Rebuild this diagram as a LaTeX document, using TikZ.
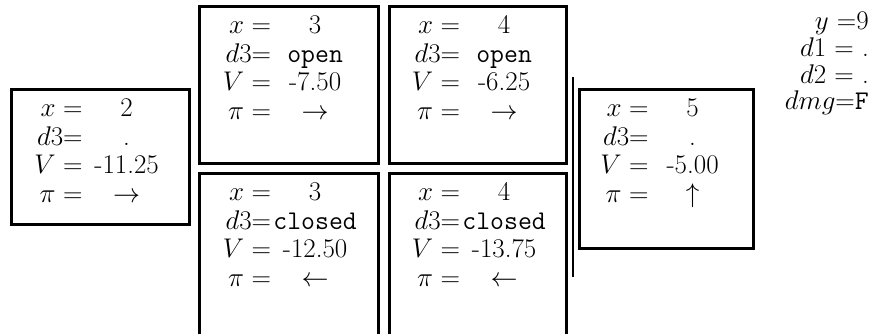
\RequirePackage{fix-cm}
\documentclass[tikz,border=0pt]{standalone}
\usepackage{array}
\usetikzlibrary{calc}
\newcommand\cellfont{\fontsize{27}{28.6}\selectfont}
\newcommand\infofont{\fontsize{27}{26.8}\selectfont}
\newcommand\cellrows[4]{\begin{tabular}[t]{@{}r@{}>{\centering\arraybackslash}p{88pt}@{}}$x=$ & #1\\ $d3{=}$ & #2\\ $V=$ & #3\\ $\pi=$ & #4\end{tabular}}
\tikzset{
  frame/.style={draw, line width=3pt, inner sep=0pt},
  celltext/.style={inner sep=0pt, anchor=base, font=\cellfont},
  sepline/.style={line width=2pt},
}
\begin{document}
\begin{tikzpicture}[x=1pt,y=-1pt]
\useasboundingbox (0,0) rectangle (871,333);
\clip (0,0) rectangle (871,333);
% frames
\node[frame, minimum width=178pt, minimum height=135pt] (L) at (100.5,157) {};
\node[frame, minimum width=179pt, minimum height=157pt] (T3) at (289,85) {};
\node[frame, minimum width=177pt, minimum height=157pt] (T4) at (478,85) {};
\node[frame, minimum width=179pt, minimum height=180pt] (B3) at (289,263.5) {};
\node[frame, minimum width=177pt, minimum height=180pt] (B4) at (478,263.5) {};
\node[frame, minimum width=174pt, minimum height=159pt] (R) at (666.5,169) {};
% contents
\node[celltext] (Lt) at ($(L.north)+(2,28.5)$) {\cellrows{2}{.}{-11.25}{$\rightarrow$}};
\node[celltext] (T3t) at ($(T3.north)+(2,28.5)$) {\cellrows{3}{\texttt{open}}{-7.50}{$\rightarrow$}};
\node[celltext] (T4t) at ($(T4.north)+(2,28.5)$) {\cellrows{4}{\texttt{open}}{-6.25}{$\rightarrow$}};
\node[celltext] (B3t) at ($(B3.north)+(2,28.5)$) {\cellrows{3}{\texttt{closed}}{-12.50}{$\leftarrow$}};
\node[celltext] (B4t) at ($(B4.north)+(2,28.5)$) {\cellrows{4}{\texttt{closed}}{-13.75}{$\leftarrow$}};
\node[celltext] (Rt) at ($(R.north)+(2,28.5)$) {\cellrows{5}{.}{-5.00}{$\uparrow$}};
% separator
\coordinate (s1) at (573,77);
\coordinate (s2) at (573,277);
\draw[sepline] (s1) -- (s2);
% info
\node[inner sep=0pt, anchor=base east, font=\infofont] (info) at (869,29.5)
  {\begin{tabular}[t]{@{}r@{}}$y$ =9\\ $d1$ = .\\ $d2$ = .\\ $dmg{=}$\texttt{F}\end{tabular}};
\end{tikzpicture}
\end{document}
